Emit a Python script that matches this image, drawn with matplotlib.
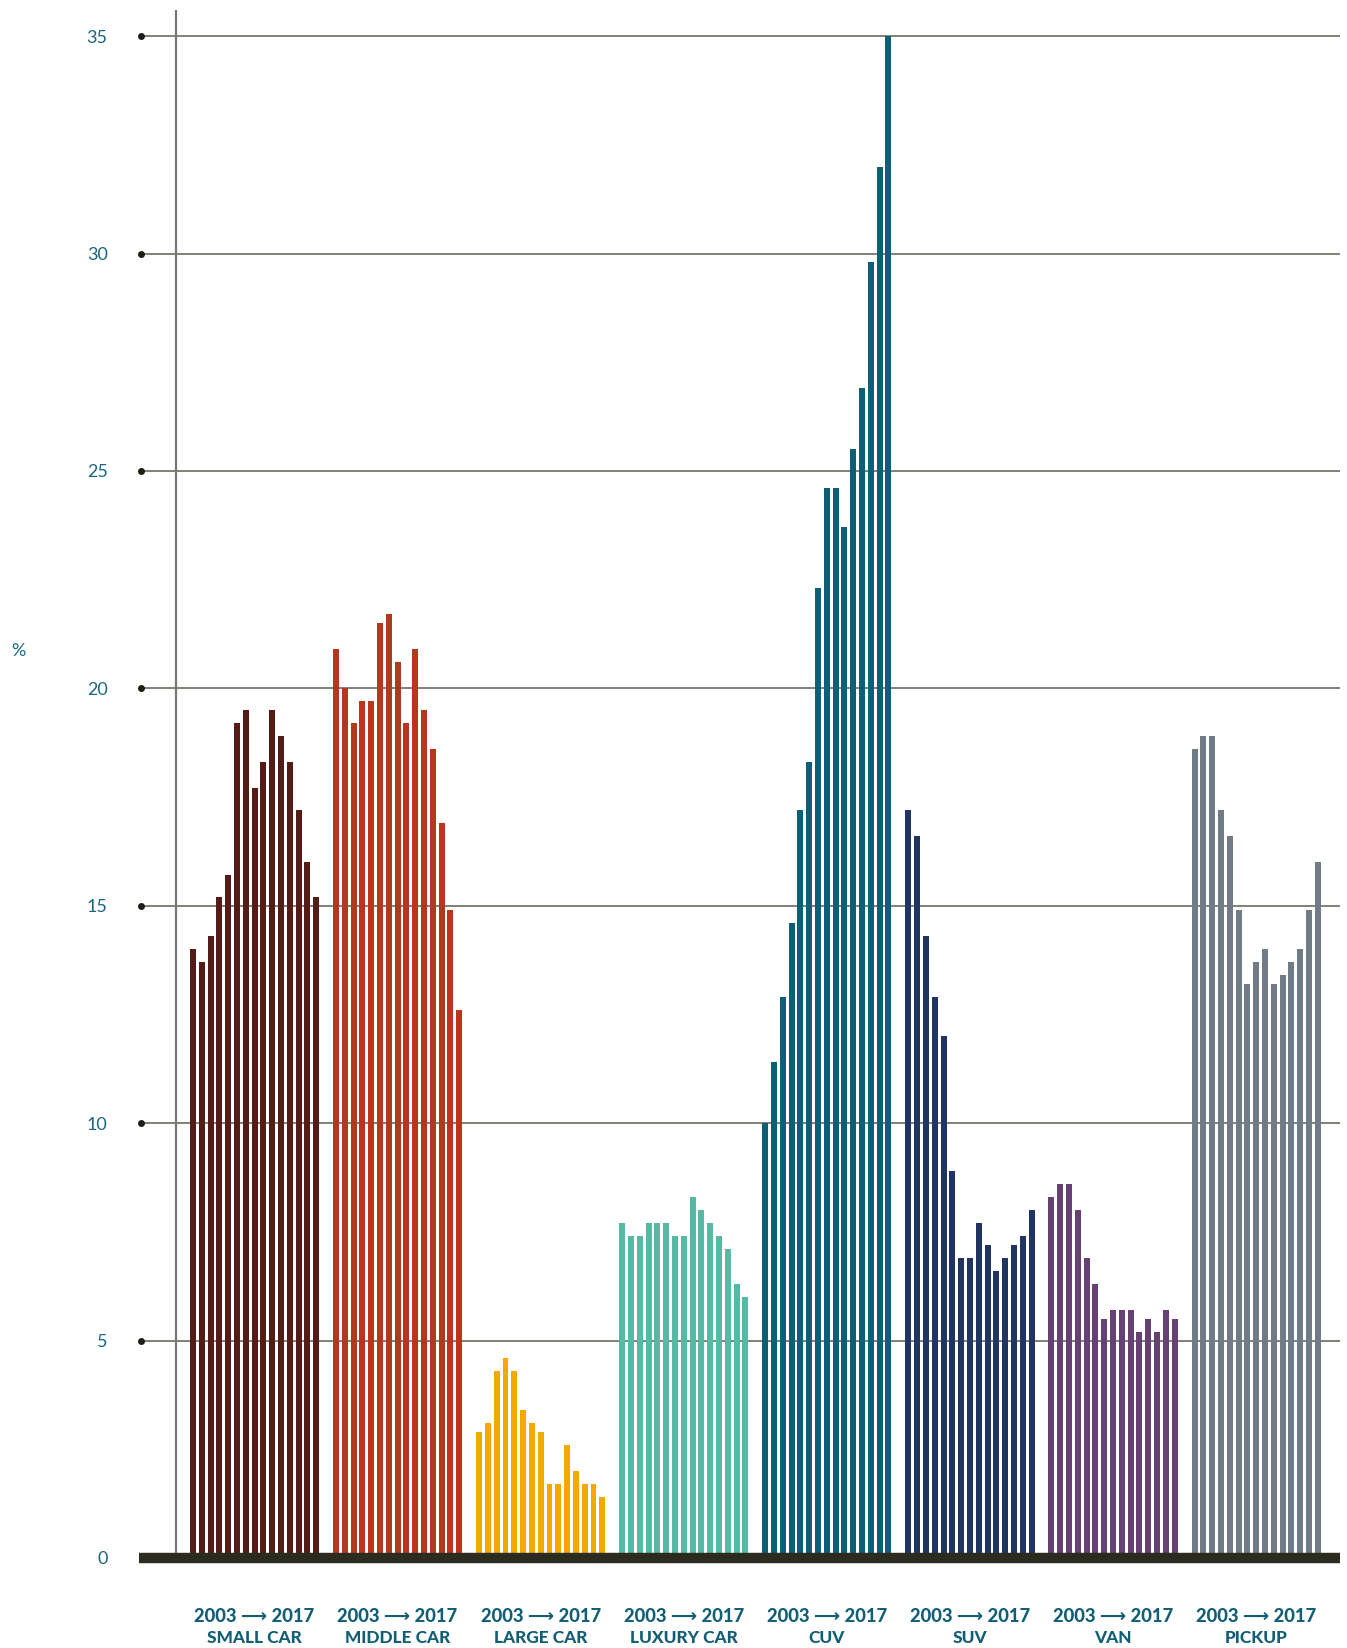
import matplotlib
matplotlib.use("Agg")
import matplotlib.pyplot as plt
from matplotlib.transforms import blended_transform_factory

# ---------------------------------------------------------------
# Data: market share (%) by vehicle segment, 2003 -> 2017
# ---------------------------------------------------------------
categories = ["SMALL CAR", "MIDDLE CAR", "LARGE CAR", "LUXURY CAR",
              "CUV", "SUV", "VAN", "PICKUP"]

small_car = [14.0, 13.7, 14.3, 15.2, 15.7, 19.2, 19.5, 17.7, 18.3, 19.5, 18.9, 18.3, 17.2, 16.0, 15.2]
middle_car = [20.9, 20.0, 19.2, 19.7, 19.7, 21.5, 21.7, 20.6, 19.2, 20.9, 19.5, 18.6, 16.9, 14.9, 12.6]
large_car = [2.9, 3.1, 4.3, 4.6, 4.3, 3.4, 3.1, 2.9, 1.7, 1.7, 2.6, 2.0, 1.7, 1.7, 1.4]
luxury_car = [7.7, 7.4, 7.4, 7.7, 7.7, 7.7, 7.4, 7.4, 8.3, 8.0, 7.7, 7.4, 7.1, 6.3, 6.0]
cuv = [10.0, 11.4, 12.9, 14.6, 17.2, 18.3, 22.3, 24.6, 24.6, 23.7, 25.5, 26.9, 29.8, 32.0, 35.0]
suv = [17.2, 16.6, 14.3, 12.9, 12.0, 8.9, 6.9, 6.9, 7.7, 7.2, 6.6, 6.9, 7.2, 7.4, 8.0]
van = [8.3, 8.6, 8.6, 8.0, 6.9, 6.3, 5.5, 5.7, 5.7, 5.7, 5.2, 5.5, 5.2, 5.7, 5.5]
pickup = [18.6, 18.9, 18.9, 17.2, 16.6, 14.9, 13.2, 13.7, 14.0, 13.2, 13.4, 13.7, 14.0, 14.9, 16.0]

series = [small_car, middle_car, large_car, luxury_car, cuv, suv, van, pickup]
colors = ["#531c16", "#b5381e", "#f5a800", "#55b9a3",
          "#0c5f74", "#213462", "#674174", "#717b85"]

yticks = [0, 5, 10, 15, 20, 25, 30, 35]
year_label = "2003 \u27f6 2017"

TEAL = "#1a6680"

# ---------------------------------------------------------------
# Figure
# ---------------------------------------------------------------
fig = plt.figure(figsize=(13.47, 16.48), dpi=100)
ax = fig.add_axes([141 / 1347, 1 - 1558 / 1648, 1199 / 1347, 1548 / 1648])

ax.set_xlim(0, 136.25)
ax.set_ylim(0, 35.6)

first_bar = 5.9
group_step = 16.26

# horizontal gridlines with dots at the left end
for v in yticks[1:]:
    ax.axhline(v, color="#6b6b60", lw=1.2, zorder=1)
ax.plot([0] * (len(yticks) - 1), yticks[1:], "o", color="#1e1e16", ms=4,
        clip_on=False, zorder=3)

# vertical axis line
ax.axvline(3.98, ymin=0, ymax=1, color="#777770", lw=1.6, zorder=1)

# bars
for g, (vals, col) in enumerate(zip(series, colors)):
    xs = [first_bar + g * group_step + i for i in range(len(vals))]
    ax.bar(xs, vals, width=0.68, color=col, zorder=2)

# thick baseline
ax.axhline(0, xmin=-0.002, xmax=1, color="#2b2b1f", lw=7.5, zorder=4,
           clip_on=False, solid_capstyle="butt")

# y tick labels
ax.set_yticks(yticks)
ax.set_yticklabels([str(t) for t in yticks], fontsize=13, color=TEAL,
                   family=["Lato", "DejaVu Sans"])
ax.tick_params(axis="y", length=0, pad=24)
ax.set_xticks([])
for s in ax.spines.values():
    s.set_visible(False)

# percent sign
fig.text(18 / 1347, 1 - 651 / 1648, "%", fontsize=13, color=TEAL,
         ha="center", va="center", family=["Lato", "DejaVu Sans"])

# category labels under each group
trans = blended_transform_factory(ax.transData, ax.transAxes)
for g, name in enumerate(categories):
    cx = first_bar + g * group_step + 7
    ax.text(cx, -0.0375, year_label, transform=trans, ha="center", va="center",
            fontsize=13.2, fontweight="black", color="#125e74",
            family=["Lato", "DejaVu Sans"])
    ax.text(cx, -0.0518, name, transform=trans, ha="center", va="center",
            fontsize=12.4, fontweight="black", color="#125e74",
            family=["Lato", "DejaVu Sans"])

fig.savefig("out.png", dpi=100, facecolor="white")
